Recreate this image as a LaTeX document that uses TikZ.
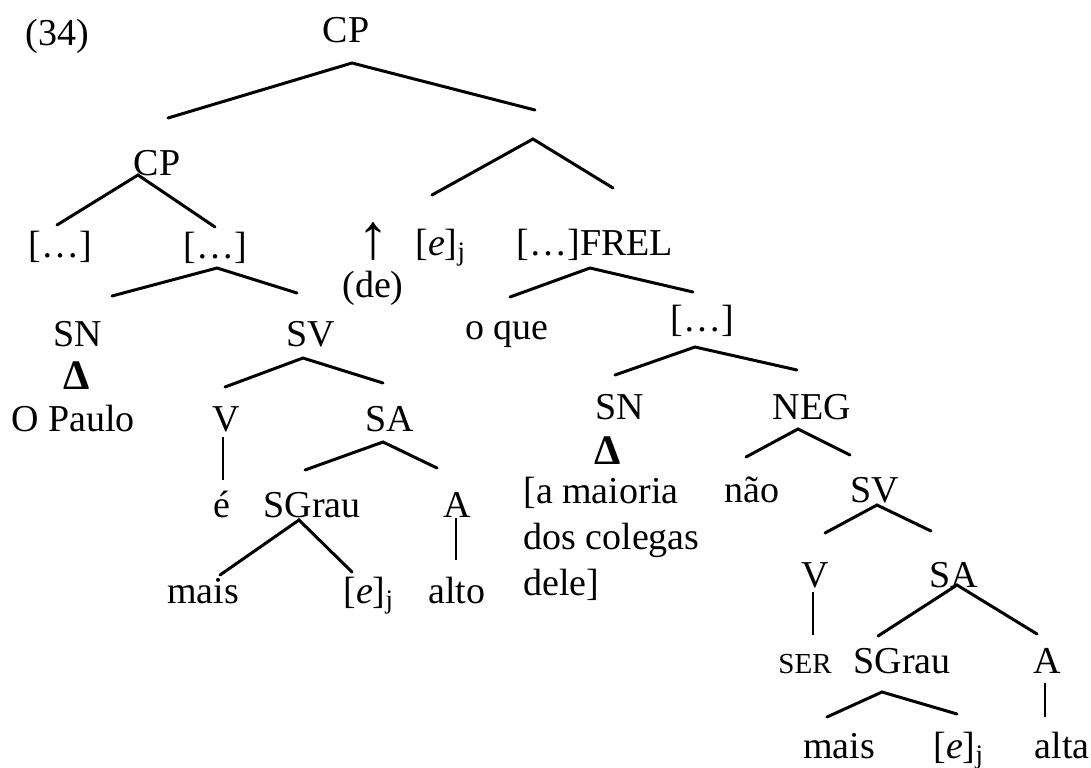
\documentclass[tikz,border=0pt]{standalone}
\usepackage{fontspec}
\setmainfont{Liberation Serif}

\tikzset{
  cat/.style={inner sep=0pt, anchor=base},
  leaf/.style={inner sep=0pt, anchor=base west},
  tri/.style={inner sep=0pt, anchor=base, font=\fontsize{21}{21}\selectfont\bfseries},
  branch/.style={line width=1.5pt, line cap=round},
  unary/.style={line width=1.1pt},
}

\begin{document}
\begin{tikzpicture}[x=0.5pt,y=-0.5pt,font=\fontsize{19}{23}\selectfont]
  \useasboundingbox (0,0) rectangle (1091,767);

  \node[cat] (ex) at (57,45) {(34)};
  \node[cat] (cp) at (346,42) {CP};
  \node[cat] (cpa) at (157,175) {CP};
  \node[cat] (dots1) at (60,257) {[\ldots]};
  \node[cat] (dots2) at (215,258) {[\ldots]};
  \node[cat, font=\fontsize{32}{32}\selectfont] (up) at (373,258) {↑};
  \node[leaf] (ej1) at (415,255) {[\textit{e}]\textsubscript{j}};
  \node[cat] (frel) at (595,255) {[\ldots]FREL};
  \node[cat] (de) at (373,297) {(de)};
  \node[cat] (sn1) at (78,346) {SN};
  \node[cat] (sv1) at (311,346) {SV};
  \node[cat] (oque) at (507,339) {o que};
  \node[cat] (dots3) at (702,331) {[\ldots]};
  \node[tri] (tri1) at (77,389) {Δ};
  \node[cat] (paulo) at (73,431) {O Paulo};
  \node[cat] (v1) at (226,431) {V};
  \node[cat] (sa1) at (390,431) {SA};
  \node[cat] (eh) at (222,517) {é};
  \node[cat] (sgrau1) at (312,517) {SGrau};
  \node[cat] (a1) at (457,517) {A};
  \node[cat] (mais1) at (203,603) {mais};
  \node[leaf] (ej2) at (343,603) {[\textit{e}]\textsubscript{j}};
  \node[cat] (alto) at (457,603) {alto};
  \node[cat] (sn2) at (620,419) {SN};
  \node[cat] (neg) at (812,419) {NEG};
  \node[tri] (tri2) at (608,464) {Δ};
  \node[leaf, align=left] (maioria) at (523,595) {[a maioria\\dos colegas\\dele]};
  \node[cat] (nao) at (752,502) {não};
  \node[cat] (sv2) at (875,502) {SV};
  \node[cat] (v2) at (815,587) {V};
  \node[cat] (sa2) at (954,587) {SA};
  \node[cat, font=\fontsize{14.5}{15}\selectfont] (ser) at (805,673) {SER};
  \node[cat] (sgrau2) at (902,673) {SGrau};
  \node[cat] (a2) at (1047,673) {A};
  \node[cat] (mais2) at (839,758) {mais};
  \node[leaf] (ej3) at (933,758) {[\textit{e}]\textsubscript{j}};
  \node[cat] (alta) at (1062,758) {alta};

  % branch points
  \coordinate (root-t) at (352,63);   \coordinate (root-l) at (168,118);  \coordinate (root-r) at (535,110);
  \coordinate (mid-t) at (533,139);   \coordinate (mid-l) at (432,195);   \coordinate (mid-r) at (613,188);
  \coordinate (cpa-t) at (138,175);   \coordinate (cpa-l) at (57,225);    \coordinate (cpa-r) at (215,227);
  \coordinate (dtwo-t) at (217,268);  \coordinate (dtwo-l) at (112,296);  \coordinate (dtwo-r) at (297,293);
  \coordinate (svone-t) at (303,358); \coordinate (svone-l) at (225,387); \coordinate (svone-r) at (383,383);
  \coordinate (saone-t) at (383,442); \coordinate (saone-l) at (305,470); \coordinate (saone-r) at (437,468);
  \coordinate (sgone-t) at (299,520); \coordinate (sgone-l) at (220,575); \coordinate (sgone-r) at (352,572);
  \coordinate (frel-t) at (590,268);  \coordinate (frel-l) at (510,297);  \coordinate (frel-r) at (693,292);
  \coordinate (dthr-t) at (695,347);  \coordinate (dthr-l) at (615,375);  \coordinate (dthr-r) at (797,370);
  \coordinate (neg-t) at (798,429);   \coordinate (neg-l) at (746,457);   \coordinate (neg-r) at (850,455);
  \coordinate (svtwo-t) at (877,505); \coordinate (svtwo-l) at (825,533); \coordinate (svtwo-r) at (931,531);
  \coordinate (satwo-t) at (957,585); \coordinate (satwo-l) at (878,636); \coordinate (satwo-r) at (1037,634);
  \coordinate (sgtwo-t) at (882,692); \coordinate (sgtwo-l) at (827,717); \coordinate (sgtwo-r) at (957,714);

  \foreach \b in {root,mid,cpa,dtwo,svone,saone,sgone,frel,dthr,neg,svtwo,satwo,sgtwo}
    \draw[branch] (\b-l) -- (\b-t) -- (\b-r);

  % unary lines
  \coordinate (vone-t) at (223,437);  \coordinate (vone-b) at (223,480);
  \coordinate (aone-t) at (456,518);  \coordinate (aone-b) at (456,560);
  \coordinate (vtwo-t) at (813,592);  \coordinate (vtwo-b) at (813,635);
  \coordinate (atwo-t) at (1045,683); \coordinate (atwo-b) at (1045,717);
  \foreach \u in {vone,aone,vtwo,atwo}
    \draw[unary] (\u-t) -- (\u-b);
\end{tikzpicture}
\end{document}
